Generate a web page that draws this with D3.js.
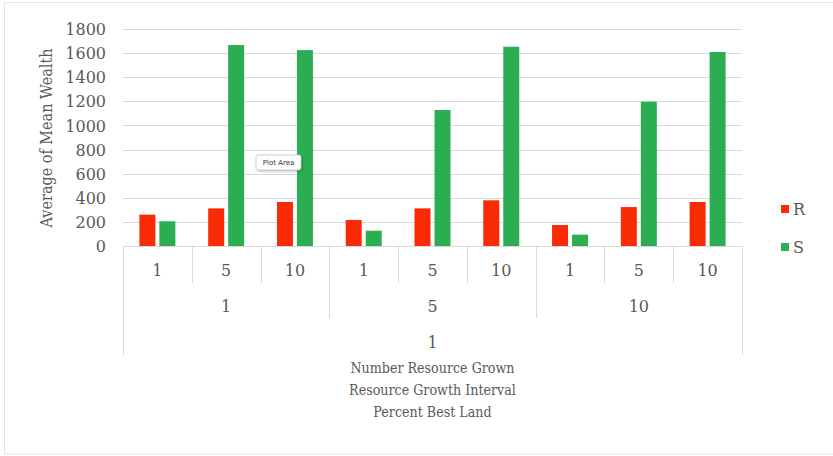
<!DOCTYPE html>
<html>
<head>
<meta charset="utf-8">
<script src="https://cdn.jsdelivr.net/npm/d3@7/dist/d3.min.js"></script>
<style>
  html, body { margin: 0; padding: 0; background: #ffffff; }
  svg { display: block; }
</style>
</head>
<body>
<svg id="chart" width="833" height="456"></svg>
<script>
// Field levels of the pivot axis (outermost first)
const percentBestLand = ["1"];
const growthInterval = ["1", "5", "10"];
const numberGrown = ["1", "5", "10"];

// Series
const seriesNames = ["R", "S"];
const valuesR = [260, 312, 365, 216, 312, 379, 174, 323, 365];
const valuesS = [205, 1667, 1625, 127, 1128, 1653, 94, 1197, 1609];

// Axis ticks and titles
const yTicks = [0, 200, 400, 600, 800, 1000, 1200, 1400, 1600, 1800];
const yTitle = "Average of Mean Wealth";
const xTitleLines = ["Number Resource Grown", "Resource Growth Interval", "Percent Best Land"];

const colors = { R: "#f82b05", S: "#2bae51" };
const textColor = "#595959";
const lineColor = "#d9d9d9";
const serif = "'DejaVu Serif', serif";

// Build leaf categories from the nested levels
const categories = [];
percentBestLand.forEach(p => growthInterval.forEach(g => numberGrown.forEach(n => {
  categories.push({ key: p + "|" + g + "|" + n, p, g, n });
})));
const rows = categories.map((c, i) => ({ ...c, R: valuesR[i], S: valuesS[i] }));

const svg = d3.select("#chart");
const plotLeft = 123, plotRight = 742, plotTop = 29, plotBase = 246;

// Outer frame
svg.append("rect")
  .attr("x", 4.5).attr("y", 2.5).attr("width", 840).attr("height", 451.5)
  .attr("fill", "none").attr("stroke", "#e3e3e3");

const x = d3.scaleBand().domain(categories.map(c => c.key)).range([plotLeft, plotRight]).padding(0);
const xInner = d3.scaleBand().domain(seriesNames).range([0, x.bandwidth()])
  .paddingInner(0.2).paddingOuter(0.82);
const y = d3.scaleLinear().domain([0, 1800]).range([plotBase, plotTop]);

// Gridlines
svg.append("g").selectAll("line").data(yTicks.filter(t => t > 0)).join("line")
  .attr("x1", plotLeft).attr("x2", plotRight)
  .attr("y1", d => Math.round(y(d)) + 0.5).attr("y2", d => Math.round(y(d)) + 0.5)
  .attr("stroke", lineColor).attr("stroke-width", 1);

// Y axis labels
const yAxis = d3.axisLeft(y).tickValues(yTicks).tickFormat(d3.format("d")).tickSize(0).tickPadding(0);
const yg = svg.append("g").attr("transform", `translate(106,0)`).call(yAxis);
yg.select(".domain").remove();
yg.selectAll("text").attr("fill", textColor).attr("font-family", serif).attr("font-size", 16)
  .attr("dy", "0.35em");

// Y title (slightly condensed serif)
svg.append("text")
  .attr("transform", `translate(52,138) rotate(-90) scale(0.9,1)`)
  .attr("text-anchor", "middle")
  .attr("fill", textColor).attr("font-family", serif).attr("font-size", 16)
  .text(yTitle);

// Bars
const groups = svg.append("g").selectAll("g").data(rows).join("g")
  .attr("transform", d => `translate(${x(d.key)},0)`);
groups.selectAll("rect").data(d => seriesNames.map(s => ({ s, v: d[s] }))).join("rect")
  .attr("x", d => xInner(d.s)).attr("width", xInner.bandwidth())
  .attr("y", d => y(d.v)).attr("height", d => plotBase - y(d.v))
  .attr("fill", d => colors[d.s]);

// Baseline
svg.append("line").attr("x1", plotLeft).attr("x2", plotRight)
  .attr("y1", plotBase + 0.5).attr("y2", plotBase + 0.5)
  .attr("stroke", lineColor).attr("stroke-width", 1);

// Multi-level category axis
const axisG = svg.append("g");
const level1Bottom = 283, level2Bottom = 318, level3Bottom = 355;
const vline = (xp, y2) => axisG.append("line")
  .attr("x1", Math.round(xp) + 0.5).attr("x2", Math.round(xp) + 0.5)
  .attr("y1", plotBase).attr("y2", y2).attr("stroke", lineColor).attr("stroke-width", 1);

// leaf separators and labels
categories.forEach((c, i) => {
  if (i > 0) vline(x(c.key), level1Bottom);
  axisG.append("text")
    .attr("x", x(c.key) + x.bandwidth() / 2).attr("y", 270).attr("dy", "0.35em")
    .attr("text-anchor", "middle").attr("fill", textColor)
    .attr("font-family", serif).attr("font-size", 16).text(c.n);
});
// growth interval groups
const perGroup = numberGrown.length;
growthInterval.forEach((g, gi) => {
  const first = categories[gi * perGroup], last = categories[gi * perGroup + perGroup - 1];
  const x0 = x(first.key), x1 = x(last.key) + x.bandwidth();
  if (gi > 0) vline(x0, level2Bottom);
  axisG.append("text")
    .attr("x", (x0 + x1) / 2).attr("y", 306).attr("dy", "0.35em")
    .attr("text-anchor", "middle").attr("fill", textColor)
    .attr("font-family", serif).attr("font-size", 16).text(g);
});
// percent best land (outermost)
percentBestLand.forEach(p => {
  axisG.append("text")
    .attr("x", (plotLeft + plotRight) / 2).attr("y", 342).attr("dy", "0.35em")
    .attr("text-anchor", "middle").attr("fill", textColor)
    .attr("font-family", serif).attr("font-size", 16).text(p);
});
vline(plotLeft, level3Bottom);
vline(plotRight, level3Bottom);

// X title lines (condensed serif)
xTitleLines.forEach((t, i) => {
  svg.append("text")
    .attr("transform", `translate(${(plotLeft + plotRight) / 2},${368 + i * 22}) scale(0.82,1)`)
    .attr("dy", "0.35em")
    .attr("text-anchor", "middle").attr("fill", textColor)
    .attr("font-family", serif).attr("font-size", 15.5).text(t);
});

// Legend
const legend = svg.append("g").selectAll("g").data(seriesNames).join("g")
  .attr("transform", (d, i) => `translate(781,${209 + i * 38})`);
legend.append("rect").attr("x", 0).attr("y", -4).attr("width", 8).attr("height", 8)
  .attr("fill", d => colors[d]);
legend.append("text").attr("x", 12).attr("y", 0).attr("dy", "0.35em")
  .attr("fill", textColor).attr("font-family", serif).attr("font-size", 16).text(d => d);

// Hover hint box over the plot
const hint = svg.append("g").attr("transform", "translate(256,155)");
hint.append("rect").attr("width", 45).attr("height", 15).attr("rx", 2)
  .attr("fill", "#ffffff").attr("stroke", "#c8c8c8").attr("stroke-width", 0.8)
  .style("filter", "drop-shadow(1px 1px 1px rgba(0,0,0,0.25))");
hint.append("text").attr("x", 22.5).attr("y", 7.5).attr("dy", "0.35em")
  .attr("text-anchor", "middle").attr("fill", "#333333")
  .attr("font-family", "'DejaVu Sans', sans-serif").attr("font-size", 7).text("Plot Area");
</script>
</body>
</html>
